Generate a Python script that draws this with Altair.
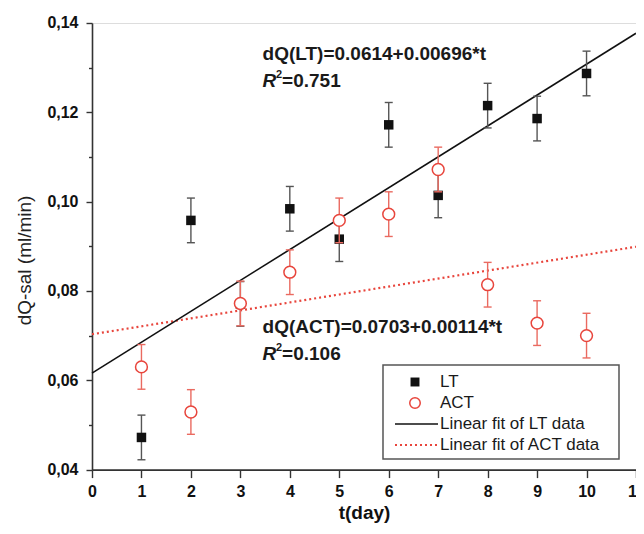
import altair as alt
import pandas as pd

# ---------------- data ----------------
t = [1, 2, 3, 4, 5, 6, 7, 8, 9, 10]
lt = [0.0472, 0.0958, 0.0771, 0.0984, 0.0916, 0.1172, 0.1014, 0.1215, 0.1186, 0.1287]
lt_err = [0.005, 0.005, 0.005, 0.005, 0.005, 0.005, 0.005, 0.005, 0.005, 0.005]
act = [0.0630, 0.0529, 0.0772, 0.0842, 0.0958, 0.0972, 0.1072, 0.0814, 0.0728, 0.0700]
act_err = [0.005, 0.005, 0.005, 0.005, 0.005, 0.005, 0.005, 0.005, 0.005, 0.005]

fit_t = [0, 11]
lt_fit = [0.0616, 0.1377]
act_fit = [0.0703, 0.0899]

legend_labels = ["LT", "ACT", "Linear fit of LT data", "Linear fit of ACT data"]

FONT = "Liberation Sans"
RED = "#e8453c"
DARK = "#333333"

df_lt = pd.DataFrame({"t": t, "v": lt, "lo": [a - b for a, b in zip(lt, lt_err)],
                      "hi": [a + b for a, b in zip(lt, lt_err)]})
df_act = pd.DataFrame({"t": t, "v": act, "lo": [a - b for a, b in zip(act, act_err)],
                       "hi": [a + b for a, b in zip(act, act_err)]})
df_fit = pd.DataFrame({"t": fit_t, "lt": lt_fit, "act": act_fit})

xscale = alt.Scale(domain=[0, 11], nice=False, zero=False)
yscale = alt.Scale(domain=[0.04, 0.14], nice=False, zero=False)

xvals = [i * 0.5 for i in range(23)]
yvals = [round(0.04 + 0.01 * i, 2) for i in range(11)]

xaxis = alt.Axis(
    values=xvals, grid=False, labelOverlap=False, labelFlush=False,
    labelExpr="datum.value % 1 == 0 ? datum.label : ''",
    tickSize={"condition": {"test": "datum.value % 1 == 0", "value": 8}, "value": 4},
    labelFont=FONT, labelFontSize=16, labelFontWeight="bold", labelColor="#111",
    labelPadding=6,
    title="t(day)", titleFont=FONT, titleFontSize=19, titleFontWeight="bold",
    titleColor="#111", titleBaseline="middle", titleY=43,
    domainColor=DARK, domainWidth=1.6, tickColor=DARK, tickWidth=1.4,
)
yaxis = alt.Axis(
    values=yvals, grid=False, labelOverlap=False,
    labelExpr="round(datum.value*100) % 2 == 0 ? replace(format(datum.value, '.2f'), '.', ',') : ''",
    tickSize={"condition": {"test": "round(datum.value*100) % 2 == 0", "value": 6}, "value": 3.5},
    labelFont=FONT, labelFontSize=16, labelFontWeight="bold", labelColor="#111",
    labelPadding=8,
    title="dQ-sal (ml/min)", titleFont=FONT, titleFontSize=19, titleFontWeight="normal",
    titleColor="#222", titleBaseline="middle", titleX=-68, titleY=237,
    domainColor=DARK, domainWidth=1.6, tickColor=DARK, tickWidth=1.4,
)

X = alt.X("t:Q", scale=xscale, axis=xaxis)

act_fit_line = alt.Chart(df_fit).mark_line(color=RED, strokeWidth=2.2, strokeDash=[2, 3]).encode(
    x=X, y=alt.Y("act:Q", scale=yscale, axis=yaxis))
lt_fit_line = alt.Chart(df_fit).mark_line(color="#111", strokeWidth=1.6).encode(
    x=alt.X("t:Q", scale=xscale), y=alt.Y("lt:Q", scale=yscale))

def errbars(df, color):
    base = alt.Chart(df)
    bar = base.mark_rule(color=color, strokeWidth=1.4).encode(
        x=alt.X("t:Q", scale=xscale), y=alt.Y("lo:Q", scale=yscale), y2="hi:Q")
    cap_lo = base.mark_rule(color=color, strokeWidth=1.4, xOffset=-4, x2Offset=4).encode(
        x=alt.X("t:Q", scale=xscale), x2="t:Q", y=alt.Y("lo:Q", scale=yscale))
    cap_hi = base.mark_rule(color=color, strokeWidth=1.4, xOffset=-4, x2Offset=4).encode(
        x=alt.X("t:Q", scale=xscale), x2="t:Q", y=alt.Y("hi:Q", scale=yscale))
    return bar + cap_lo + cap_hi

lt_pts = alt.Chart(df_lt).mark_point(shape="square", filled=True, color="#111", size=90, opacity=1).encode(
    x=alt.X("t:Q", scale=xscale), y=alt.Y("v:Q", scale=yscale))
act_pts = alt.Chart(df_act).mark_point(shape="circle", filled=False, fill="white", fillOpacity=1,
                                       stroke=RED, strokeWidth=1.5, size=140, opacity=1).encode(
    x=alt.X("t:Q", scale=xscale), y=alt.Y("v:Q", scale=yscale))

# ---------------- annotations ----------------
def txt(x, y, s, **kw):
    d = pd.DataFrame({"x": [x], "y": [y], "s": [s]})
    props = dict(font=FONT, fontSize=19, fontWeight="bold", color="#1a1a1a", align="left",
                 baseline="alphabetic")
    props.update(kw)
    return alt.Chart(d).mark_text(**props).encode(
        x=alt.X("x:Q", scale=xscale), y=alt.Y("y:Q", scale=yscale), text="s:N")

ann = (
    txt(3.45, 0.1318, "dQ(LT)=0.0614+0.00696*t")
    + txt(3.45, 0.1257, "R", fontStyle="italic")
    + txt(3.45, 0.1257, "2", fontSize=11, dx=13.5, dy=-9)
    + txt(3.45, 0.1257, "=0.751", dx=19.5)
    + txt(3.45, 0.0705, "dQ(ACT)=0.0703+0.00114*t")
    + txt(3.45, 0.0645, "R", fontStyle="italic")
    + txt(3.45, 0.0645, "2", fontSize=11, dx=13.5, dy=-9)
    + txt(3.45, 0.0645, "=0.106", dx=19.5)
)

# ---------------- legend (drawn in pixel space of the plot) ----------------
one = pd.DataFrame({"k": [0]})
lbox = alt.Chart(one).mark_rect(fill="white", stroke="#555", strokeWidth=1.5).encode(
    x=alt.value(291), x2=alt.value(527), y=alt.value(342), y2=alt.value(436))
rows = [359, 380, 401, 422]
leg = lbox
leg += alt.Chart(one).mark_point(shape="square", filled=True, color="#111", size=80, opacity=1).encode(
    x=alt.value(323), y=alt.value(rows[0]))
leg += alt.Chart(one).mark_point(shape="circle", filled=False, stroke=RED, strokeWidth=1.5, size=110,
                                 opacity=1).encode(x=alt.value(323), y=alt.value(rows[1]))
leg += alt.Chart(one).mark_rule(color="#111", strokeWidth=1.6).encode(
    x=alt.value(303), x2=alt.value(346), y=alt.value(rows[2]))
leg += alt.Chart(one).mark_rule(color=RED, strokeWidth=2, strokeDash=[2, 3]).encode(
    x=alt.value(303), x2=alt.value(346), y=alt.value(rows[3]))
for lab, ry in zip(legend_labels, rows):
    d = pd.DataFrame({"s": [lab]})
    leg += alt.Chart(d).mark_text(font=FONT, fontSize=17, color="#1a1a1a", align="left",
                                  baseline="middle").encode(
        x=alt.value(348), y=alt.value(ry), text="s:N")

chart = alt.layer(
    act_fit_line, lt_fit_line,
    errbars(df_lt, "#555555"), lt_pts,
    errbars(df_act, "#ea6a60"), act_pts,
    ann, leg,
).properties(
    width=544, height=446.6,
    autosize=alt.AutoSizeParams(type="none"),
    padding={"left": 84, "top": 15, "right": 0, "bottom": 56},
).configure_view(stroke=DARK, strokeWidth=1.6).configure(background="white")

chart.save("out.html", embed_options={"renderer": "svg", "actions": False})
